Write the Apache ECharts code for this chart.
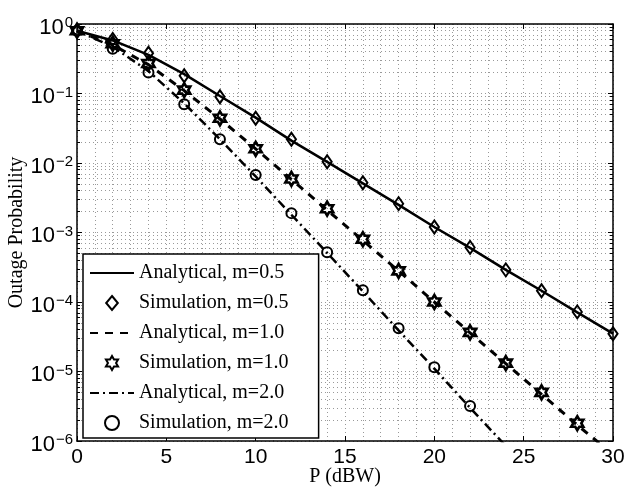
<!DOCTYPE html>
<html>
<head>
<meta charset="utf-8">
<script src="https://cdn.jsdelivr.net/npm/echarts@6/dist/echarts.min.js"></script>
<style>html,body{margin:0;padding:0;background:#fff;}#chart{width:625px;height:490px;}</style>
</head>
<body>
<div id="chart"></div>
<script>
// ---- data ----
const P = [0, 2, 4, 6, 8, 10, 12, 14, 16, 18, 20, 22, 24, 26, 28, 30];
const analytical05 = [0.8, 0.58, 0.36, 0.19, 0.092, 0.045, 0.021, 0.0104, 0.0051, 0.0025, 0.0012, 0.0006, 0.00029, 0.000145, 7.1e-5, 3.5e-5];
const simulation05 = [0.8, 0.6, 0.38, 0.18, 0.09, 0.044, 0.022, 0.0104, 0.0052, 0.0026, 0.0012, 0.00061, 0.00029, 0.000145, 7.2e-5, 3.5e-5];
const analytical10 = [0.8, 0.5, 0.26, 0.11, 0.043, 0.016, 0.0058, 0.0021, 0.00077, 0.00028, 1.0e-4, 3.6e-5, 1.3e-5, 4.7e-6, 1.7e-6, 6.4e-7];
const simulation10 = [0.8, 0.52, 0.27, 0.112, 0.044, 0.016, 0.0059, 0.0022, 0.0008, 0.00028, 1.0e-4, 3.65e-5, 1.32e-5, 5e-6, 1.8e-6];
const analytical20 = [0.8, 0.47, 0.21, 0.072, 0.022, 0.0064, 0.0018, 0.00051, 0.000142, 3.9e-5, 1.1e-5, 3.0e-6, 8.5e-7];
const simulation20 = [0.8, 0.44, 0.2, 0.07, 0.022, 0.0067, 0.0019, 0.00052, 0.000148, 4.2e-5, 1.15e-5, 3.2e-6];
const seriesNames = ['Analytical, m=0.5', 'Simulation, m=0.5', 'Analytical, m=1.0', 'Simulation, m=1.0', 'Analytical, m=2.0', 'Simulation, m=2.0'];
const xLabel = 'P (dBW)';
const yLabel = 'Outage Probability';

function pairs(vals) { return vals.map(function (v, i) { return [P[i], v]; }); }

const hexagram = 'path://M10 0 L12.887 5 L18.66 5 L15.77 10 L18.66 15 L12.887 15 L10 20 L7.113 15 L1.34 15 L4.23 10 L1.34 5 L7.113 5 Z';
const diamond = 'path://M5 0 L10 6 L5 12 L0 6 Z';

const gridDot = { color: '#999', width: 1, type: [1, 3] };
const serif = 'Liberation Serif, Times New Roman, serif';
const sans = 'Liberation Sans, Arial, Helvetica, sans-serif';

const chart = echarts.init(document.getElementById('chart'), null, { renderer: 'canvas' });

const hiddenSym = { color: 'rgba(0,0,0,0)', borderWidth: 0, borderColor: 'rgba(0,0,0,0)' };
const hollow = { color: 'rgba(255,255,255,0)', borderColor: '#000', borderWidth: 2, opacity: 1 };
const lineBase = { type: 'line', showSymbol: false, symbol: 'none', animation: false, z: 3, clip: true, xAxisIndex: 0, yAxisIndex: 0, itemStyle: hiddenSym };
const markBase = { type: 'scatter', animation: false, z: 4, clip: true, xAxisIndex: 0, yAxisIndex: 0, symbolKeepAspect: true };

const option = {
  backgroundColor: '#fff',
  animation: false,
  grid: { left: 77, right: 12, top: 24, bottom: 49, containLabel: false, outerBoundsMode: 'none' },
  legend: {
    orient: 'vertical', left: 83, top: 254, align: 'left',
    itemWidth: 44, itemHeight: 14, itemGap: 10,
    padding: [9, 30, 5, 6],
    backgroundColor: '#fff', borderColor: '#000', borderWidth: 1.5,
    selectedMode: false,
    textStyle: { fontFamily: serif, fontSize: 20, color: '#000' },
    data: seriesNames
  },
  xAxis: [{
    type: 'value', min: 0, max: 30, interval: 5, position: 'bottom',
    name: xLabel, nameLocation: 'middle', nameGap: 26, nameMoveOverlap: false,
    nameTextStyle: { fontFamily: serif, fontSize: 20, color: '#000' },
    axisLine: { show: true, onZero: false, lineStyle: { color: '#000', width: 1.5 } },
    axisTick: { show: true, inside: true, length: 5, lineStyle: { color: '#000', width: 1 } },
    axisLabel: { fontFamily: sans, fontSize: 21, color: '#000', margin: 6 },
    splitLine: { show: true, lineStyle: gridDot },
    minorTick: { show: false, splitNumber: 5 },
    minorSplitLine: { show: true, lineStyle: gridDot }
  }, {
    type: 'value', min: 0, max: 30, interval: 5, position: 'top',
    axisLine: { show: true, onZero: false, lineStyle: { color: '#000', width: 1.5 } },
    axisTick: { show: true, inside: true, length: 5, lineStyle: { color: '#000', width: 1 } },
    axisLabel: { show: false }, splitLine: { show: false }
  }],
  yAxis: [{
    type: 'log', logBase: 10, min: 1e-6, max: 1, interval: 1, position: 'left',
    name: yLabel, nameLocation: 'middle', nameGap: 50, nameMoveOverlap: false,
    nameTextStyle: { fontFamily: serif, fontSize: 20, color: '#000' },
    axisLine: { show: true, onZero: false, lineStyle: { color: '#000', width: 1.5 } },
    axisTick: { show: true, inside: true, length: 5, lineStyle: { color: '#000', width: 1 } },
    minorTick: { show: true, splitNumber: 9, length: 3, lineStyle: { color: '#000', width: 1 } },
    minorSplitLine: { show: true, lineStyle: gridDot },
    splitLine: { show: true, lineStyle: gridDot },
    axisLabel: {
      margin: 4,
      padding: [6, 0, 0, 0],
      formatter: function (v) {
        const e = Math.round(Math.log10(v));
        return '{b|10}{s|' + (e < 0 ? '\u2212' + (-e) : e) + '}';
      },
      rich: {
        b: { fontFamily: sans, fontSize: 22, color: '#000', lineHeight: 23, verticalAlign: 'bottom' },
        s: { fontFamily: sans, fontSize: 15, color: '#000', lineHeight: 15, verticalAlign: 'top', padding: [0, 0, 8, 1] }
      }
    }
  }, {
    type: 'log', logBase: 10, min: 1e-6, max: 1, interval: 1, position: 'right',
    axisLine: { show: true, onZero: false, lineStyle: { color: '#000', width: 1.5 } },
    axisTick: { show: true, inside: true, length: 5, lineStyle: { color: '#000', width: 1 } },
    minorTick: { show: true, splitNumber: 9, length: 3, lineStyle: { color: '#000', width: 1 } },
    axisLabel: { show: false }, splitLine: { show: false }, minorSplitLine: { show: false }
  }],
  series: [
    Object.assign({}, lineBase, { name: seriesNames[0], data: pairs(analytical05), lineStyle: { color: '#000', width: 2.5, type: 'solid' } }),
    Object.assign({}, markBase, { name: seriesNames[1], data: pairs(simulation05), symbol: diamond, symbolSize: [11, 13], itemStyle: hollow }),
    Object.assign({}, lineBase, { name: seriesNames[2], data: pairs(analytical10), lineStyle: { color: '#000', width: 3, type: [8, 7] } }),
    Object.assign({}, markBase, { name: seriesNames[3], data: pairs(simulation10), symbol: hexagram, symbolSize: 14, itemStyle: Object.assign({}, hollow, { borderWidth: 2.6 }) }),
    Object.assign({}, lineBase, { name: seriesNames[4], data: pairs(analytical20), lineStyle: { color: '#000', width: 2.5, type: [9, 4, 2, 4] } }),
    Object.assign({}, markBase, { name: seriesNames[5], data: pairs(simulation20), symbol: 'circle', symbolSize: 10, itemStyle: hollow })
  ]
};
chart.setOption(option);
</script>
</body>
</html>
